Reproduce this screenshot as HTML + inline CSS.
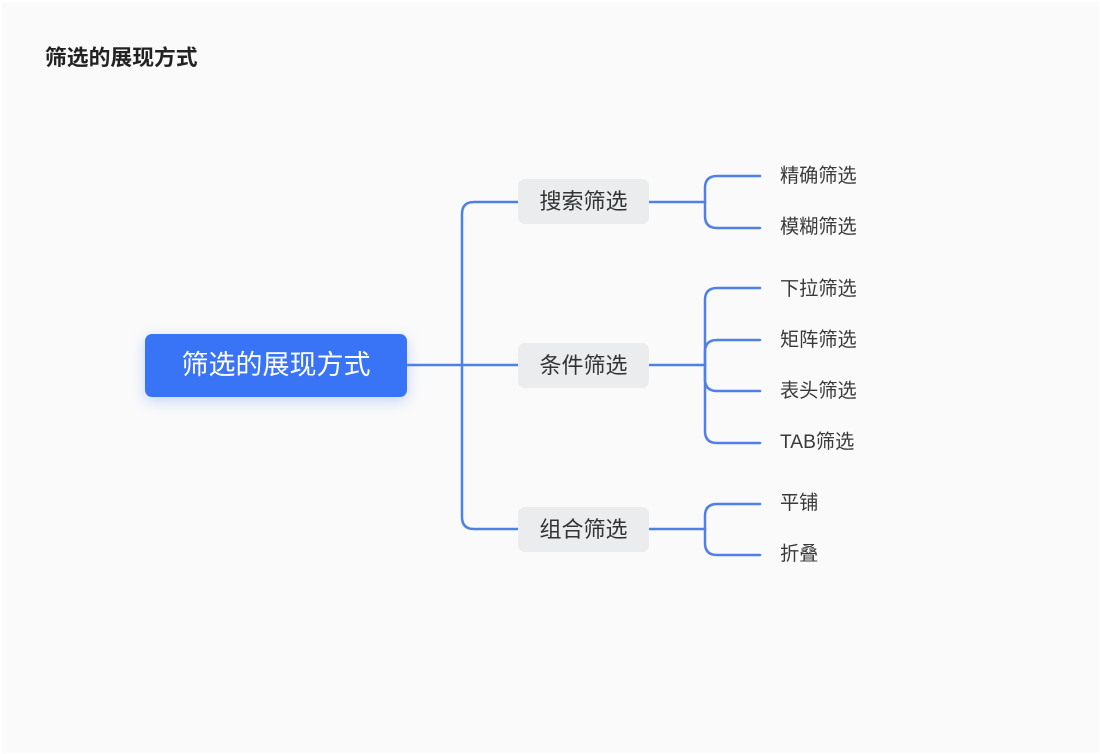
<!DOCTYPE html>
<html><head><meta charset="utf-8">
<style>
html,body{margin:0;padding:0;}
body{width:1100px;height:754px;position:relative;overflow:hidden;background:#fafafa;font-family:"Liberation Sans","Noto Sans CJK SC",sans-serif;}
.frame{position:absolute;left:0;top:0;width:1100px;height:754px;box-sizing:border-box;border-top:2px solid #fff;border-left:2px solid #fff;border-right:1px solid #fff;border-bottom:1px solid #fff;}
.title{position:absolute;left:45px;top:44px;font-size:21.8px;font-weight:bold;color:#222;line-height:28px;white-space:nowrap;}
.root{position:absolute;left:145px;top:334px;width:262px;height:63px;background:#3a74f6;border-radius:7px;box-shadow:0 4px 14px rgba(58,116,246,0.28);color:#fff;font-size:27px;line-height:63px;text-align:center;}
.mid{position:absolute;left:518px;width:131px;height:45px;background:#ebecee;border-radius:7px;color:#333;font-size:22px;line-height:45px;text-align:center;}
.leaf{position:absolute;left:780px;font-size:19.2px;color:#3a3a3a;line-height:24px;white-space:nowrap;}
svg{position:absolute;left:0;top:0;}
</style></head>
<body>
<div class="frame"></div>
<div class="title">筛选的展现方式</div>
<svg width="1100" height="754" viewBox="0 0 1100 754">
<g fill="none" stroke="#4f80e8" stroke-width="2.5" stroke-linecap="round">
<path d="M407 365 H518"/>
<path d="M518 202 H474 Q462 202 462 214 V517 Q462 529 474 529 H518"/>
<path d="M649 202 H705"/>
<path d="M705 202 V188 Q705 176 717 176 H760"/>
<path d="M705 202 V216 Q705 228 717 228 H760"/>
<path d="M649 365 H705"/>
<path d="M705 365 V300 Q705 288 717 288 H760"/>
<path d="M705 365 V352 Q705 340 717 340 H760"/>
<path d="M705 365 V379 Q705 391 717 391 H760"/>
<path d="M705 365 V431 Q705 443 717 443 H760"/>
<path d="M649 529 H705"/>
<path d="M705 529 V516 Q705 504 717 504 H760"/>
<path d="M705 529 V543 Q705 555 717 555 H760"/>
</g>
</svg>
<div class="root">筛选的展现方式</div>
<div class="mid" style="top:179px;">搜索筛选</div>
<div class="mid" style="top:343px;">条件筛选</div>
<div class="mid" style="top:507px;">组合筛选</div>
<div class="leaf" style="top:165px;">精确筛选</div>
<div class="leaf" style="top:216px;">模糊筛选</div>
<div class="leaf" style="top:278px;">下拉筛选</div>
<div class="leaf" style="top:329px;">矩阵筛选</div>
<div class="leaf" style="top:380px;">表头筛选</div>
<div class="leaf" style="top:431px;">TAB筛选</div>
<div class="leaf" style="top:492px;">平铺</div>
<div class="leaf" style="top:543px;">折叠</div>
</body></html>
